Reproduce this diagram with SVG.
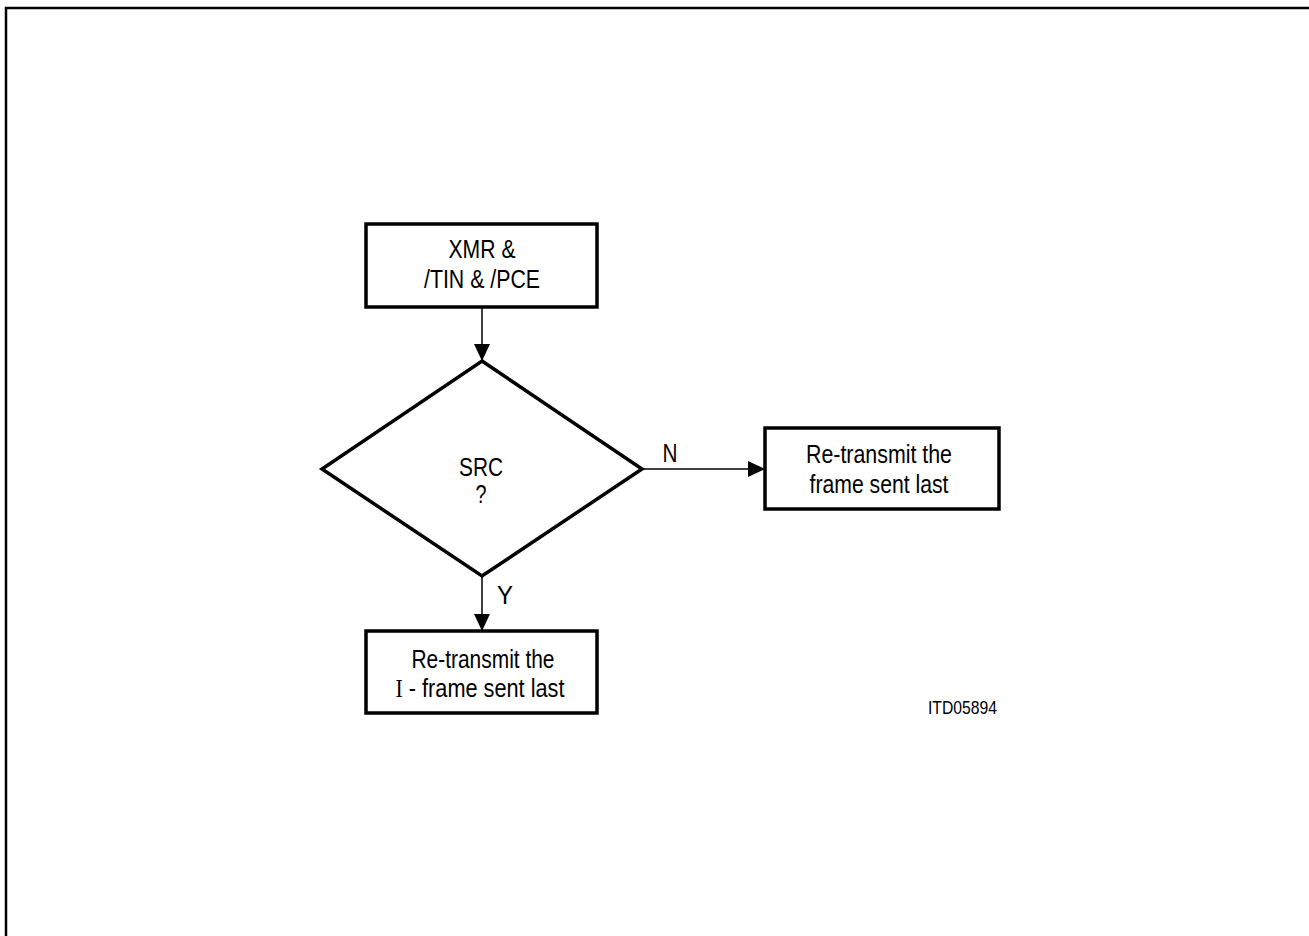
<svg xmlns="http://www.w3.org/2000/svg" width="1309" height="936" viewBox="0 0 1309 936">
<style>
.box{fill:#fff;stroke:#000;stroke-width:3.5}
.ln{fill:none;stroke:#000;stroke-width:1.5}
.t{font-family:"Liberation Sans",Arial,sans-serif;font-size:25px;fill:#000;text-anchor:middle}
.s{font-family:"Liberation Sans",Arial,sans-serif;font-size:19px;fill:#000}
</style>
<defs>
<marker id="ah" markerUnits="userSpaceOnUse" markerWidth="17" markerHeight="16" refX="17" refY="8" orient="auto">
<path d="M0,0 L17,8 L0,16 Z" fill="#000"/>
</marker>
</defs>
<rect width="1309" height="936" fill="#fff"/>
<path d="M6,936 V8 H1309" fill="none" stroke="#000" stroke-width="2.5"/>
<g id="connectors">
<line class="ln" x1="482" y1="307" x2="482" y2="361" marker-end="url(#ah)"/>
<line class="ln" x1="642" y1="469" x2="765" y2="469" marker-end="url(#ah)"/>
<line class="ln" x1="482" y1="576" x2="482" y2="631" marker-end="url(#ah)"/>
<text class="t" x="670" y="462" textLength="15" lengthAdjust="spacingAndGlyphs">N</text>
<text class="t" x="505" y="604" textLength="16" lengthAdjust="spacingAndGlyphs">Y</text>
</g>
<g id="start">
<rect class="box" x="366" y="224" width="231" height="83"/>
<text class="t" x="482" y="258" textLength="67" lengthAdjust="spacingAndGlyphs">XMR &amp;</text>
<text class="t" x="482" y="288" textLength="116" lengthAdjust="spacingAndGlyphs">/TIN &amp; /PCE</text>
</g>
<g id="decision">
<polygon class="box" points="482,361 642,469 482,576 322,469"/>
<text class="t" x="481" y="476" textLength="44" lengthAdjust="spacingAndGlyphs">SRC</text>
<text class="t" x="481" y="503" textLength="11" lengthAdjust="spacingAndGlyphs">?</text>
</g>
<g id="retransmit-frame">
<rect class="box" x="765" y="428" width="234" height="81"/>
<text class="t" x="879" y="463" textLength="146" lengthAdjust="spacingAndGlyphs">Re-transmit the</text>
<text class="t" x="879" y="493" textLength="139" lengthAdjust="spacingAndGlyphs">frame sent last</text>
</g>
<g id="retransmit-iframe">
<rect class="box" x="366" y="631" width="231" height="82"/>
<text class="t" x="483" y="668" textLength="143" lengthAdjust="spacingAndGlyphs">Re-transmit the</text>
<text class="t" x="480" y="697" textLength="169" lengthAdjust="spacingAndGlyphs"><tspan font-family="'Liberation Serif',serif">I</tspan> - frame sent last</text>
</g>
<text class="s" x="928" y="714" textLength="69" lengthAdjust="spacingAndGlyphs">ITD05894</text>
</svg>
